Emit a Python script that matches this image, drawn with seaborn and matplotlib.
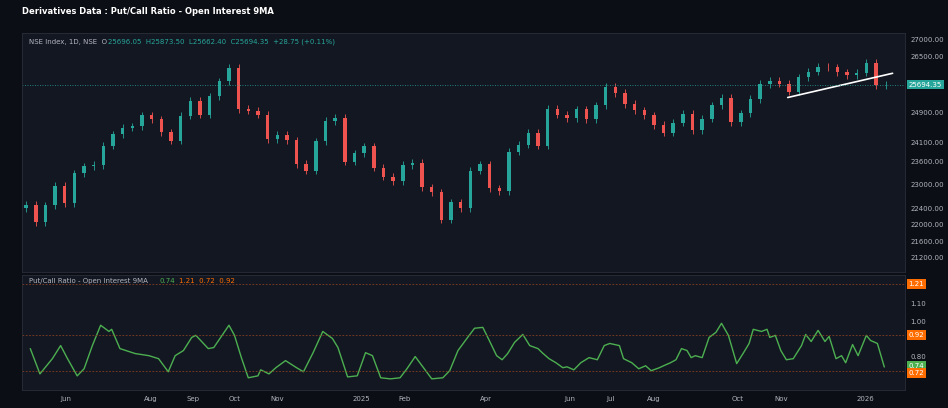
import pandas as pd
import numpy as np
import matplotlib
matplotlib.use("Agg")
import matplotlib.pyplot as plt
from matplotlib.ticker import FixedLocator, NullLocator
import seaborn as sns

# Weekly closes of the index (Fridays)
start_open = 22400.0
closes = [22480, 22060, 22470, 22960, 22530,
          23290, 23465, 23500, 24010,
          24320, 24500, 24530, 24830,
          24720, 24370, 24140, 24820, 25235,
          24850, 25360, 25790, 26180,
          25010, 24960, 24850, 24180, 24300,
          24150, 23530, 23350, 24130,
          24680, 24770, 23590, 23810, 24000,
          23430, 23200, 23090, 23500,
          23560, 22930, 22800, 22120,
          22550, 22400, 23350, 23520, 22900,
          22830, 23850, 24040, 24350,
          24010, 25020, 24850, 24750,
          25000, 24720, 25110, 25640,
          25460, 25150, 24970, 24840, 24570,
          24360, 24630, 24870, 24430,
          24740, 25110, 25330, 24650,
          24890, 25290, 25710, 25800, 25720,
          25490, 25910, 26070, 26200,
          26190, 26050, 25960, 26040, 26330,
          25680, 25694.35]
weeks = pd.date_range("2024-05-03", periods=len(closes), freq="W-FRI")

# Put/Call ratio OI 9MA
pcr_dates = pd.to_datetime([
    "2024-05-06", "2024-05-13", "2024-05-22", "2024-05-28", "2024-06-02", "2024-06-09", "2024-06-14",
    "2024-06-20", "2024-06-26", "2024-07-02", "2024-07-04", "2024-07-10", "2024-07-21", "2024-07-31",
    "2024-08-07", "2024-08-14", "2024-08-19", "2024-08-25", "2024-08-31", "2024-09-03", "2024-09-12",
    "2024-09-16", "2024-09-27", "2024-10-01", "2024-10-06", "2024-10-11", "2024-10-18", "2024-10-20",
    "2024-10-26", "2024-10-31", "2024-11-07", "2024-11-15", "2024-11-20", "2024-11-27", "2024-12-04",
    "2024-12-11", "2024-12-15", "2024-12-22", "2024-12-29", "2025-01-04", "2025-01-09", "2025-01-15",
    "2025-01-22", "2025-01-29",
    "2025-02-03", "2025-02-09", "2025-02-15", "2025-02-21", "2025-03-01", "2025-03-06", "2025-03-12",
    "2025-03-19", "2025-03-24", "2025-03-30", "2025-04-03", "2025-04-09", "2025-04-13", "2025-04-17",
    "2025-04-22", "2025-04-28", "2025-05-03", "2025-05-09", "2025-05-12", "2025-05-17", "2025-05-22",
    "2025-05-27", "2025-05-30", "2025-06-04", "2025-06-09", "2025-06-15", "2025-06-21", "2025-06-26",
    "2025-06-30", "2025-07-07", "2025-07-10", "2025-07-16", "2025-07-21", "2025-07-26",
    "2025-07-30", "2025-08-05", "2025-08-08", "2025-08-13", "2025-08-17", "2025-08-21", "2025-08-25",
    "2025-08-28", "2025-08-31", "2025-09-05", "2025-09-10", "2025-09-15", "2025-09-19", "2025-09-24",
    "2025-09-30", "2025-10-05", "2025-10-09", "2025-10-12", "2025-10-18", "2025-10-22", "2025-10-24",
    "2025-10-28", "2025-11-01", "2025-11-05", "2025-11-10", "2025-11-16", "2025-11-19", "2025-11-23",
    "2025-11-28", "2025-12-03", "2025-12-06", "2025-12-11", "2025-12-15", "2025-12-18", "2025-12-23",
    "2025-12-27", "2026-01-02", "2026-01-05", "2026-01-10", "2026-01-15"])
pcr_values = [
    0.844, 0.701, 0.787, 0.861, 0.787, 0.690, 0.730, 0.861, 0.976, 0.941, 0.953, 0.844, 0.816, 0.804,
    0.787, 0.713, 0.804, 0.833, 0.907, 0.919, 0.844, 0.850, 0.976, 0.919, 0.793, 0.679, 0.690, 0.724,
    0.701, 0.736, 0.776, 0.736, 0.713, 0.821, 0.941, 0.901, 0.850, 0.684, 0.690, 0.821, 0.804, 0.679,
    0.673, 0.679,
    0.730, 0.799, 0.736, 0.673, 0.679, 0.719, 0.833, 0.907, 0.959, 0.964, 0.901, 0.804, 0.781,
    0.816, 0.879, 0.924, 0.861, 0.844, 0.821, 0.787, 0.764, 0.736, 0.741, 0.724, 0.764, 0.793, 0.781,
    0.861, 0.873, 0.861, 0.787, 0.764, 0.730, 0.747,
    0.719, 0.736, 0.747, 0.764, 0.781, 0.844, 0.833, 0.793, 0.804, 0.793, 0.907, 0.936, 0.987, 0.919,
    0.759, 0.821, 0.873, 0.953, 0.941, 0.953, 0.907, 0.919, 0.833, 0.781, 0.787, 0.861, 0.924, 0.884,
    0.947, 0.884, 0.913, 0.787, 0.804, 0.764, 0.867, 0.804, 0.919, 0.890, 0.873, 0.740]
pcr_levels = [1.21, 0.92, 0.72]

trend_dates = pd.to_datetime(["2025-11-06", "2026-01-21"])
trend_prices = [25330, 26020]

price_ticks = [27000, 26500, 24900, 24100, 23600, 23000, 22400, 22000, 21600, 21200]
pcr_ticks = [1.10, 1.00, 0.80]
month_ticks = pd.to_datetime(["2024-06-01", "2024-08-01", "2024-09-01", "2024-10-01", "2024-11-01",
                              "2025-01-01", "2025-02-01", "2025-04-01", "2025-06-01", "2025-07-01",
                              "2025-08-01", "2025-10-01", "2025-11-01", "2026-01-01"])
month_labels = ["Jun", "Aug", "Sep", "Oct", "Nov", "2025", "Feb", "Apr", "Jun", "Jul",
                "Aug", "Oct", "Nov", "2026"]

BG = "#131722"
OUTER = "#0c0e15"
TXT = "#b2b5be"
UP, DOWN = "#26a69a", "#ef5350"
ORANGE = "#ff6d00"
GREEN = "#4caf50"

sns.set_theme(style="dark", rc={"axes.facecolor": BG, "figure.facecolor": OUTER,
                                "axes.edgecolor": "#2a2e39", "text.color": TXT,
                                "xtick.color": TXT, "ytick.color": TXT})
plt.rcParams["font.family"] = ["DejaVu Sans"]
fs = 5

fig = plt.figure(figsize=(9.48, 4.08), dpi=100)
fig.text(22 / 948, 1 - 12 / 408, "Derivatives Data : Put/Call Ratio - Open Interest 9MA",
         color="white", fontsize=6, fontweight="bold", va="center")

ax = fig.add_axes([22 / 948, 1 - 272 / 408, 883 / 948, 239 / 408])
ax2 = fig.add_axes([22 / 948, 1 - 390 / 408, 883 / 948, 115 / 408], sharex=ax)

# candles
opens = [start_open] + closes[:-1]
df = pd.DataFrame({"date": weeks, "open": opens, "close": closes})
df["up"] = df["close"] >= df["open"]
for _, r in df.iterrows():
    lo, hi = sorted([r["open"], r["close"]])
    c = UP if r["up"] else DOWN
    ax.bar(r["date"], hi - lo, bottom=lo, width=2.5, color=c, linewidth=0)
    ax.vlines(r["date"], lo * 0.996, hi * 1.004, color=c, linewidth=0.6)
ax.set_yscale("log")
ax.set_ylim(20870, 27210)
ax.plot(trend_dates, trend_prices, color="white", linewidth=1.2)
last = closes[-1]
ax.axhline(last, color=UP, linestyle=(0, (1, 2)), linewidth=0.6)
ax.yaxis.tick_right()
ax.yaxis.set_major_locator(FixedLocator(price_ticks))
ax.yaxis.set_minor_locator(NullLocator())
ax.set_yticklabels([f"{t:.2f}" for t in price_ticks], fontsize=fs)
ax.text(1.004, last, f"{last:.2f}", transform=ax.get_yaxis_transform(), fontsize=fs,
        color="white", va="center", bbox=dict(boxstyle="square,pad=0.25", fc=UP, ec="none"))
ax.tick_params(axis="both", length=0, pad=4)
ax.tick_params(axis="x", labelbottom=False)
ax.annotate("NSE Index, 1D, NSE  O", (0.008, 0.955), xycoords="axes fraction",
            fontsize=fs, color=TXT)
ax.annotate("25696.05  H25873.50  L25662.40  C25694.35  +28.75 (+0.11%)", (0.008, 0.955),
            xycoords="axes fraction", xytext=(57, 0), textcoords="offset points",
            fontsize=fs, color=UP)

# PCR pane
pcr = pd.DataFrame({"date": pcr_dates, "pcr": pcr_values})
sns.lineplot(data=pcr, x="date", y="pcr", ax=ax2, color=GREEN, linewidth=1.0)
for lv in pcr_levels:
    ax2.axhline(lv, color="#8a4020", linestyle=(0, (2, 2)), linewidth=0.6)
ax2.set_ylim(0.61, 1.26)
ax2.yaxis.tick_right()
ax2.set_yticks(pcr_ticks)
ax2.set_yticklabels([f"{t:.2f}" for t in pcr_ticks], fontsize=fs)
ax2.set_xlabel("")
ax2.set_ylabel("")
for lv, txt, c in [(1.21, "1.21", ORANGE), (0.92, "0.92", ORANGE), (0.745, "0.74", GREEN),
                   (0.705, "0.72", ORANGE)]:
    ax2.text(1.004, lv, txt, transform=ax2.get_yaxis_transform(), fontsize=fs, color="white",
             va="center", bbox=dict(boxstyle="square,pad=0.25", fc=c, ec="none"))
ax2.annotate("Put/Call Ratio - Open Interest 9MA", (0.008, 0.93), xycoords="axes fraction",
             fontsize=fs, color=TXT)
ax2.annotate("0.74", (0.008, 0.93), xycoords="axes fraction", xytext=(94, 0),
             textcoords="offset points", fontsize=fs, color=GREEN)
ax2.annotate("1.21  0.72  0.92", (0.008, 0.93), xycoords="axes fraction", xytext=(108, 0),
             textcoords="offset points", fontsize=fs, color=ORANGE)

ax2.set_xlim(pd.Timestamp("2024-04-30"), pd.Timestamp("2026-01-30"))
ax2.set_xticks(month_ticks)
ax2.set_xticklabels(month_labels)
ax2.tick_params(axis="both", length=0, labelsize=fs, pad=4)
for a in (ax, ax2):
    a.grid(False)
    for s in a.spines.values():
        s.set_color("#2a2e39")
        s.set_linewidth(0.6)

fig.savefig("out.png", dpi=100, facecolor=OUTER)
